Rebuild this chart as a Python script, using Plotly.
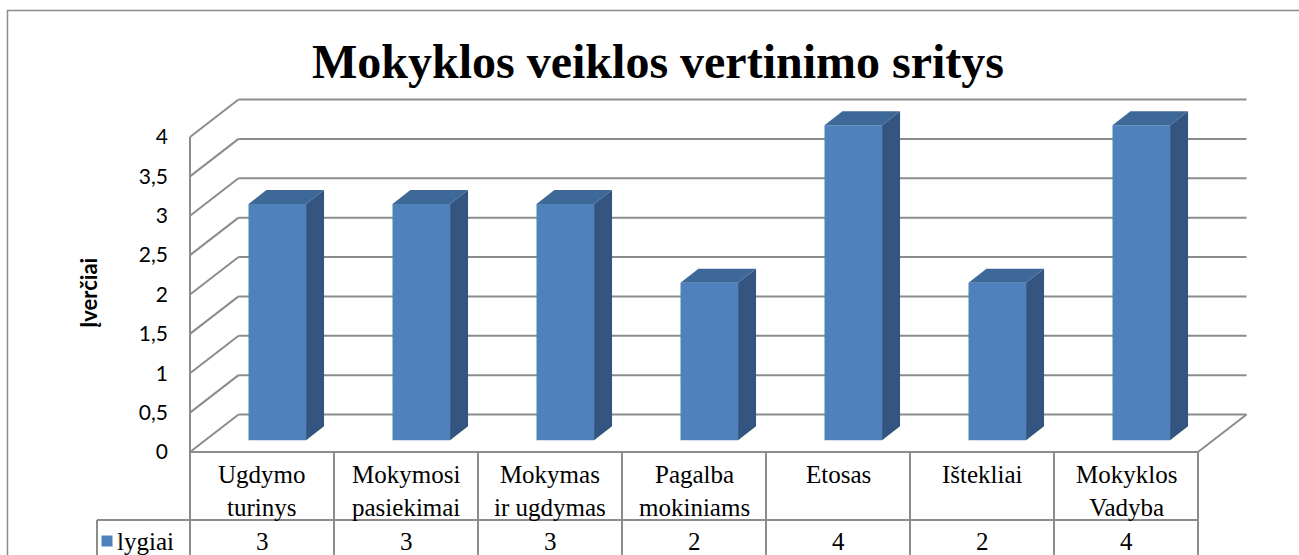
import plotly.graph_objects as go

# ---- data ----
categories = ["Ugdymo<br>turinys", "Mokymosi<br>pasiekimai", "Mokymas<br>ir ugdymas",
              "Pagalba<br>mokiniams", "Etosas", "Ištekliai", "Mokyklos<br>Vadyba"]
values = [3, 3, 3, 2, 4, 2, 4]
series_name = "lygiai"
y_ticks = [0, 0.5, 1, 1.5, 2, 2.5, 3, 3.5, 4]
y_ticktext = ["0", "0,5", "1", "1,5", "2", "2,5", "3", "3,5", "4"]
title = "Mokyklos veiklos vertinimo sritys"
y_title = "Įverčiai"

# ---- style / geometry ----
W, H = 1299, 555
X0PX, XUNIT = 190, 144.0       # pixel of category 0 and px per category
Y0PX, YUNIT = 452, 78.75       # pixel of value 0 and px per unit
DX, DY = 0.337, 0.476          # depth offset (category units, value units)
D0, D1 = 0.315, 0.685          # bar depth span
BAR_W = 0.4
GRID = "#8c8c8c"
FRONT, TOP, SIDE = "#4f81bd", "#3e6898", "#33557f"
TABLE_FONT = dict(family="Liberation Serif", size=25, color="black")
n = len(categories)
ymax = max(y_ticks)

xr = [(0 - X0PX) / XUNIT, (W - X0PX) / XUNIT]
yr = [(Y0PX - H) / YUNIT, Y0PX / YUNIT]

fig = go.Figure()

def line(xs, ys, color=GRID, width=2):
    fig.add_trace(go.Scatter(x=xs, y=ys, mode="lines", line=dict(color=color, width=width),
                             hoverinfo="skip", showlegend=False))

# back wall gridlines and left wall diagonals
for v in y_ticks:
    line([DX, n + DX], [v + DY, v + DY])
    line([0, DX], [v, v + DY])
# left front edge
line([0, 0], [0, ymax])
# floor right diagonal
line([n, n + DX], [0, DY])

# bars (3D look)
for i, v in enumerate(values):
    x0 = i + 0.5 - BAR_W / 2 + D0 * DX
    x1 = x0 + BAR_W
    b = D0 * DY
    t = v + D0 * DY
    ddx, ddy = (D1 - D0) * DX, (D1 - D0) * DY
    fig.add_trace(go.Scatter(x=[x0, x1, x1, x0, x0], y=[b, b, t, t, b], fill="toself",
                             fillcolor=FRONT, mode="lines", line=dict(width=0, color=FRONT),
                             hoverinfo="skip", showlegend=False))
    fig.add_trace(go.Scatter(x=[x1, x1 + ddx, x1 + ddx, x1, x1], y=[b, b + ddy, t + ddy, t, b],
                             fill="toself", fillcolor=SIDE, mode="lines",
                             line=dict(width=0, color=SIDE), hoverinfo="skip", showlegend=False))
    fig.add_trace(go.Scatter(x=[x0, x0 + ddx, x1 + ddx, x1, x0], y=[t, t + ddy, t + ddy, t, t],
                             fill="toself", fillcolor=TOP, mode="lines",
                             line=dict(width=0, color=TOP), hoverinfo="skip", showlegend=False))

# data table
row1 = -68 / YUNIT
bottom = yr[0] - 0.2
leg_left = (97 - X0PX) / XUNIT
line([0, n], [0, 0])
line([leg_left, n], [row1, row1])
for k in range(n + 1):
    line([k, k], [0, bottom])
line([leg_left, leg_left], [row1, bottom])

val_y = (Y0PX - 541) / YUNIT
for i, c in enumerate(categories):
    fig.add_annotation(x=i + 0.5, y=-0.09, text=c, showarrow=False, yanchor="top",
                       xanchor="center", font=TABLE_FONT)
    fig.add_annotation(x=i + 0.5, y=val_y, text=str(values[i]), showarrow=False,
                       yanchor="middle", xanchor="center", font=TABLE_FONT)

fig.add_trace(go.Scatter(x=[(107 - X0PX) / XUNIT], y=[val_y], mode="markers",
                         marker=dict(symbol="square", size=11, color=FRONT),
                         hoverinfo="skip", showlegend=False))
fig.add_annotation(x=(115 - X0PX) / XUNIT, y=val_y, text=series_name, showarrow=False,
                   xanchor="left", yanchor="middle", font=TABLE_FONT)

# title and axis title
fig.add_annotation(xref="paper", yref="paper", x=658 / W, y=1 - 62 / H, text="<b>" + title + "</b>",
                   showarrow=False, xanchor="center", yanchor="middle",
                   font=dict(family="Liberation Serif", size=48, color="black"))
fig.add_annotation(xref="paper", yref="paper", x=88 / W, y=1 - 293 / H, text="<b>" + y_title + "</b>",
                   showarrow=False, textangle=-90, xanchor="center", yanchor="middle",
                   font=dict(family="Lato", size=22, color="black"))

# chart border
fig.add_shape(type="rect", xref="paper", yref="paper", x0=7.5 / W, x1=1.02, y0=-0.05, y1=1 - 10.5 / H,
              line=dict(color="#8c8c8c", width=1.5))

fig.update_layout(
    width=W, height=H, margin=dict(l=0, r=0, t=0, b=0),
    paper_bgcolor="white", plot_bgcolor="white", showlegend=False,
    xaxis=dict(range=xr, visible=False, domain=[0, 1], fixedrange=True),
    yaxis=dict(range=yr, domain=[0, 1], anchor="free", position=X0PX / W,
               tickvals=y_ticks, ticktext=y_ticktext, showgrid=False, zeroline=False,
               showline=False, ticks="", ticklabelstandoff=22,
               tickfont=dict(family="Lato", size=21, color="black"), fixedrange=True),
)

fig.write_html("out.html", config={"displayModeBar": False},
               post_script="document.body.style.margin='0px';document.body.style.overflow='hidden';")
